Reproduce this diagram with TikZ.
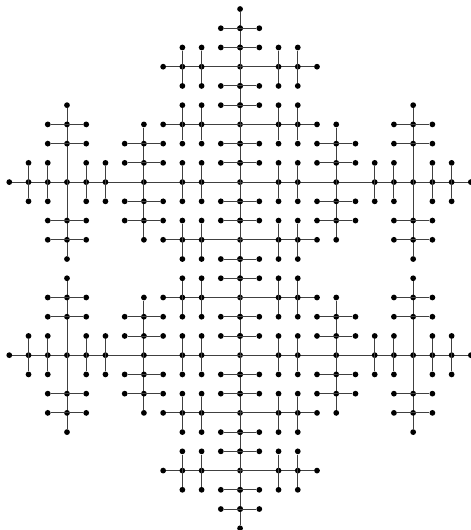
\documentclass[tikz,border=0pt]{standalone}
\usetikzlibrary{positioning}

% one dot of the grid, named after its column and row
\newcommand{\gridpt}[2]{\node[dot] (g-#1-#2) at (#1,#2) {};}
% short vertical bar through (c,r)
\newcommand{\tickv}[2]{%
  \pgfmathtruncatemacro\ta{#2-1}\pgfmathtruncatemacro\tb{#2+1}%
  \gridpt{#1}{\ta}\gridpt{#1}{#2}\gridpt{#1}{\tb}%
  \draw[edge] (g-#1-\ta) -- (g-#1-\tb);}
% short horizontal bar through (c,r)
\newcommand{\tickh}[2]{%
  \pgfmathtruncatemacro\ta{#1-1}\pgfmathtruncatemacro\tb{#1+1}%
  \gridpt{\ta}{#2}\gridpt{#1}{#2}\gridpt{\tb}{#2}%
  \draw[edge] (g-\ta-#2) -- (g-\tb-#2);}

\begin{document}
\begin{tikzpicture}[x=0.5cm, y=-0.5cm,
    dot/.style={circle, fill=black, inner sep=0pt, minimum size=1.5mm},
    edge/.style={draw=black!75, line width=0.65pt}
]
\useasboundingbox (-0.483,-0.468) rectangle (24,27.09);

% spine
\foreach \r in {0,...,27} {\gridpt{12}{\r}}
\draw[edge] (g-12-0) -- (g-12-27);
\foreach \r in {1,2,4,5,7,8,10,11,13,14,16,17,19,20,22,23,25,26} {\tickh{12}{\r}}

% short cross bars
\foreach \r in {3,6,12,15,21,24} {
  \gridpt{8}{\r} \gridpt{16}{\r}
  \draw[edge] (g-8-\r) -- (g-16-\r);
  \foreach \c in {9,10,14,15} {\tickv{\c}{\r}}
}

% long bars with wings
\foreach \r in {9,18} {
  \gridpt{0}{\r} \gridpt{24}{\r}
  \draw[edge] (g-0-\r) -- (g-24-\r);
  \foreach \c in {1,2,4,5,9,10,14,15,19,20,22,23} {\tickv{\c}{\r}}
  % outer wings
  \foreach \c in {3,21} {
    \pgfmathtruncatemacro\wa{\r-4}\pgfmathtruncatemacro\wb{\r+4}
    \gridpt{\c}{\wa} \gridpt{\c}{\r} \gridpt{\c}{\wb}
    \draw[edge] (g-\c-\wa) -- (g-\c-\wb);
    \foreach \d in {-3,-2,2,3} {\pgfmathtruncatemacro\w{\r+\d}\tickh{\c}{\w}}
  }
  % inner columns
  \foreach \c in {7,17} {
    \pgfmathtruncatemacro\wa{\r-3}\pgfmathtruncatemacro\wb{\r+3}
    \gridpt{\c}{\wa} \gridpt{\c}{\r} \gridpt{\c}{\wb}
    \draw[edge] (g-\c-\wa) -- (g-\c-\wb);
    \foreach \d in {-2,-1,1,2} {\pgfmathtruncatemacro\w{\r+\d}\tickh{\c}{\w}}
  }
}

\end{tikzpicture}
\end{document}
